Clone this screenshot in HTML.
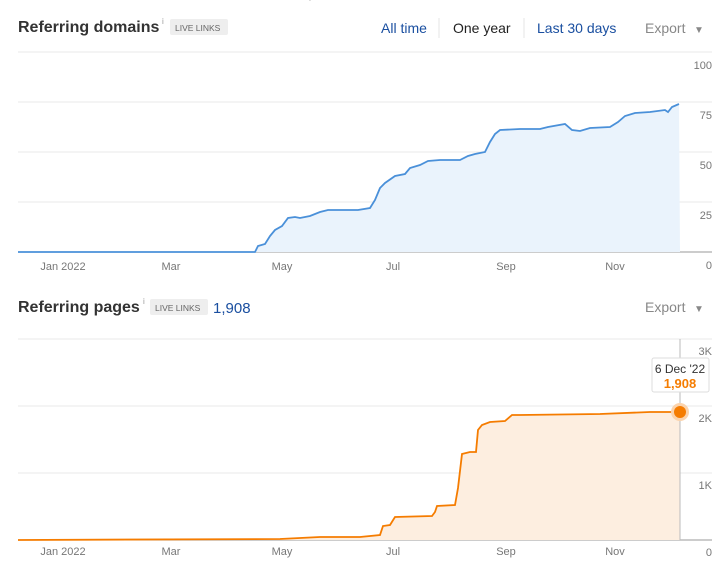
<!DOCTYPE html><html><head><style>body{margin:0;background:#fff;font-family:"Liberation Sans",sans-serif;}</style></head><body>
<svg width="722" height="576" xmlns="http://www.w3.org/2000/svg" font-family="Liberation Sans, sans-serif">
<text x="294" y="-2" font-size="12" fill="#888">Sep</text>
<text x="18" y="32" font-size="16" font-weight="bold" fill="#333">Referring domains</text>
<text x="162" y="24" font-size="8" fill="#999">i</text>
<rect x="170" y="19" width="58" height="16" fill="#eee" rx="2"/>
<text x="175" y="31" font-size="8.5" fill="#666">LIVE LINKS</text>
<text x="381" y="33" font-size="14" fill="#1a4fa0">All time</text>
<line x1="439" y1="18" x2="439" y2="38" stroke="#e5e5e5"/>
<text x="453" y="33" font-size="14" fill="#222">One year</text>
<line x1="524" y1="18" x2="524" y2="38" stroke="#e5e5e5"/>
<text x="537" y="33" font-size="14" fill="#1a4fa0">Last 30 days</text>
<text x="645" y="33" font-size="14" fill="#888">Export</text>
<text x="694" y="33" font-size="10" fill="#888">▼</text>
<g stroke="#e8e8e8"><line x1="18" y1="52" x2="712" y2="52"/><line x1="18" y1="102" x2="712" y2="102"/><line x1="18" y1="152" x2="712" y2="152"/><line x1="18" y1="202" x2="712" y2="202"/></g>
<line x1="18" y1="252" x2="712" y2="252" stroke="#999"/>
<g font-size="11" fill="#777" text-anchor="end"><text x="712" y="69">100</text><text x="712" y="119">75</text><text x="712" y="169">50</text><text x="712" y="219">25</text><text x="712" y="269">0</text></g>
<path d="M18,252 L255,252 258,246 265,244 270,236 275,230 282,226 288,218 295,217 300,218 310,216 320,212 328,210 340,210 358,210 370,208 375,200 380,188 385,183 395,176 405,174 410,168 420,165 428,161 440,160 460,160 468,156 475,154 485,152 490,142 495,134 500,130 520,129 540,129 548,127 565,124 572,130 580,131 590,128 610,127 618,122 625,116 635,113 650,112 665,110 668,112 672,107 679,104 L680,252Z" fill="#eaf3fc"/>
<path d="M18,252 L255,252 258,246 265,244 270,236 275,230 282,226 288,218 295,217 300,218 310,216 320,212 328,210 340,210 358,210 370,208 375,200 380,188 385,183 395,176 405,174 410,168 420,165 428,161 440,160 460,160 468,156 475,154 485,152 490,142 495,134 500,130 520,129 540,129 548,127 565,124 572,130 580,131 590,128 610,127 618,122 625,116 635,113 650,112 665,110 668,112 672,107 679,104" fill="none" stroke="#4a90d9" stroke-width="1.8"/>
<g font-size="11" fill="#777" text-anchor="middle"><text x="63" y="270">Jan 2022</text><text x="171" y="270">Mar</text><text x="282" y="270">May</text><text x="393" y="270">Jul</text><text x="506" y="270">Sep</text><text x="615" y="270">Nov</text></g>
<text x="18" y="312" font-size="16" font-weight="bold" fill="#333">Referring pages</text>
<text x="143" y="304" font-size="8" fill="#999">i</text>
<rect x="150" y="299" width="58" height="16" fill="#eee" rx="2"/>
<text x="155" y="311" font-size="8.5" fill="#666">LIVE LINKS</text>
<text x="213" y="313" font-size="15" fill="#1a4fa0">1,908</text>
<text x="645" y="312" font-size="14" fill="#888">Export</text>
<text x="694" y="312" font-size="10" fill="#888">▼</text>
<g stroke="#e8e8e8"><line x1="18" y1="339" x2="712" y2="339"/><line x1="18" y1="406" x2="712" y2="406"/><line x1="18" y1="473" x2="712" y2="473"/></g>
<line x1="18" y1="540" x2="712" y2="540" stroke="#999"/>
<g font-size="11" fill="#777" text-anchor="end"><text x="712" y="355">3K</text><text x="712" y="422">2K</text><text x="712" y="489">1K</text><text x="712" y="556">0</text></g>
<path d="M18,540 L280,539 320,537 360,537 380,535 383,526 390,525 395,517 432,516 435,512 437,506 455,505 458,488 462,454 470,452 476,452 478,430 482,425 490,422 505,421 512,415 520,415 600,414 650,412 680,412 L680,540Z" fill="#fdeee0"/>
<path d="M18,540 L280,539 320,537 360,537 380,535 383,526 390,525 395,517 432,516 435,512 437,506 455,505 458,488 462,454 470,452 476,452 478,430 482,425 490,422 505,421 512,415 520,415 600,414 650,412 680,412" fill="none" stroke="#f57c00" stroke-width="1.8"/>
<line x1="680" y1="339" x2="680" y2="540" stroke="#bbb"/>
<circle cx="680" cy="412" r="9" fill="#fbd3ac"/>
<circle cx="680" cy="412" r="6" fill="#f57c00"/>
<rect x="652" y="358" width="57" height="34" fill="#fff" stroke="#ddd" rx="2"/>
<text x="680" y="373" font-size="12" fill="#333" text-anchor="middle">6 Dec '22</text>
<text x="680" y="388" font-size="13" font-weight="bold" fill="#f57c00" text-anchor="middle">1,908</text>
<g font-size="11" fill="#777" text-anchor="middle"><text x="63" y="555">Jan 2022</text><text x="171" y="555">Mar</text><text x="282" y="555">May</text><text x="393" y="555">Jul</text><text x="506" y="555">Sep</text><text x="615" y="555">Nov</text></g>
</svg></body></html>
